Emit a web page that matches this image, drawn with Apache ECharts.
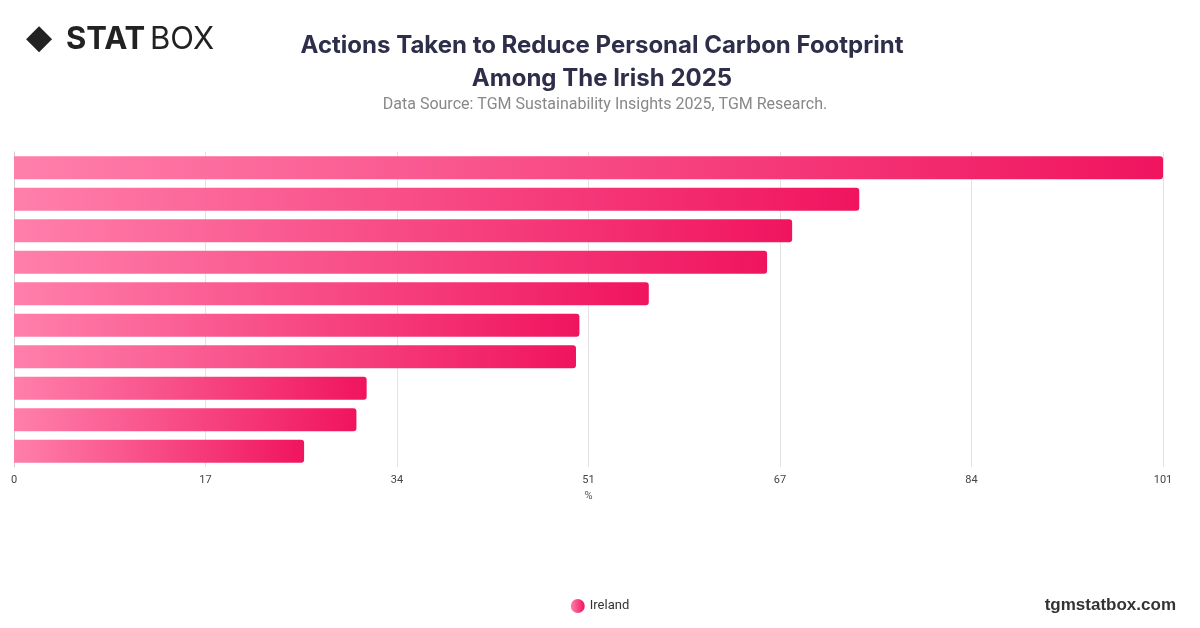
<!DOCTYPE html>
<html>
<head>
<meta charset="utf-8">
<script src="https://cdn.jsdelivr.net/npm/echarts@6/dist/echarts.min.js"></script>
<style>
  html, body { margin: 0; padding: 0; background: #fff; }
  #chart { width: 1200px; height: 628px; }
</style>
</head>
<body>
<div id="chart"></div>
<script>
  // categories are not shown on the picture, so keep simple ids
  var categories = ['A1', 'A2', 'A3', 'A4', 'A5', 'A6', 'A7', 'A8', 'A9', 'A10'];
  var irelandValues = [101.0, 74.3, 68.4, 66.2, 55.8, 49.7, 49.4, 31.0, 30.1, 25.5];
  var axisMax = 101;

  var myChart = echarts.init(document.getElementById('chart'));

  var option = {
    backgroundColor: '#fff',
    textStyle: { fontFamily: 'Roboto, sans-serif' },
    title: [{
      text: 'Actions Taken to Reduce Personal Carbon Footprint\nAmong The Irish 2025',
      left: 597,
      top: 24,
      textAlign: 'center',
      textStyle: { fontSize: 24, fontWeight: 'bold', color: '#2e2e4a', lineHeight: 33, fontFamily: 'Inter, sans-serif' }
    }, {
      text: 'Data Source: TGM Sustainability Insights 2025, TGM Research.',
      left: 600,
      top: 92,
      textAlign: 'center',
      textStyle: { fontSize: 16, fontWeight: 'normal', color: '#888' }
    }],
    graphic: [{
      type: 'text', left: 26, top: 22,
      style: { text: '◆', fontSize: 34, fill: '#222' }
    }, {
      type: 'text', left: 66, top: 24,
      style: { text: 'STAT', fontSize: 31, fontWeight: 'bold', fill: '#222', fontFamily: 'Inter, sans-serif' }
    }, {
      type: 'text', left: 150, top: 24,
      style: { text: 'BOX', fontSize: 31, fontWeight: 'normal', fill: '#222', fontFamily: 'Inter, sans-serif' }
    }, {
      type: 'text', right: 24, top: 597,
      style: { text: 'tgmstatbox.com', fontSize: 17, fontWeight: 'bold', fill: '#333' }
    }],
    legend: {
      bottom: 10,
      left: 'center',
      icon: 'circle',
      itemWidth: 14,
      itemHeight: 14,
      textStyle: { fontSize: 13, color: '#333' },
      data: ['Ireland']
    },
    grid: { left: 14, right: 37, top: 152, bottom: 161, containLabel: false },
    xAxis: {
      type: 'value',
      min: 0,
      max: axisMax,
      interval: axisMax / 6,
      name: '%',
      nameLocation: 'middle',
      nameGap: 22,
      nameTextStyle: { fontSize: 11, color: '#555' },
      axisLabel: {
        fontSize: 11, color: '#444',
        formatter: function (v) { return Math.round(v); }
      },
      splitLine: { lineStyle: { color: '#e3e3e3' } },
      axisLine: { show: false },
      axisTick: { show: false }
    },
    yAxis: {
      type: 'category',
      inverse: true,
      data: categories,
      axisLabel: { show: false },
      axisTick: { show: false },
      axisLine: { lineStyle: { color: '#ccc' } }
    },
    series: [{
      name: 'Ireland',
      type: 'bar',
      barWidth: 23,
      data: irelandValues,
      itemStyle: {
        borderRadius: [0, 3, 3, 0],
        color: new echarts.graphic.LinearGradient(0, 0, 1, 0, [
          { offset: 0, color: '#ff7fab' },
          { offset: 1, color: '#f0145f' }
        ])
      }
    }]
  };

  myChart.setOption(option);
</script>
</body>
</html>
